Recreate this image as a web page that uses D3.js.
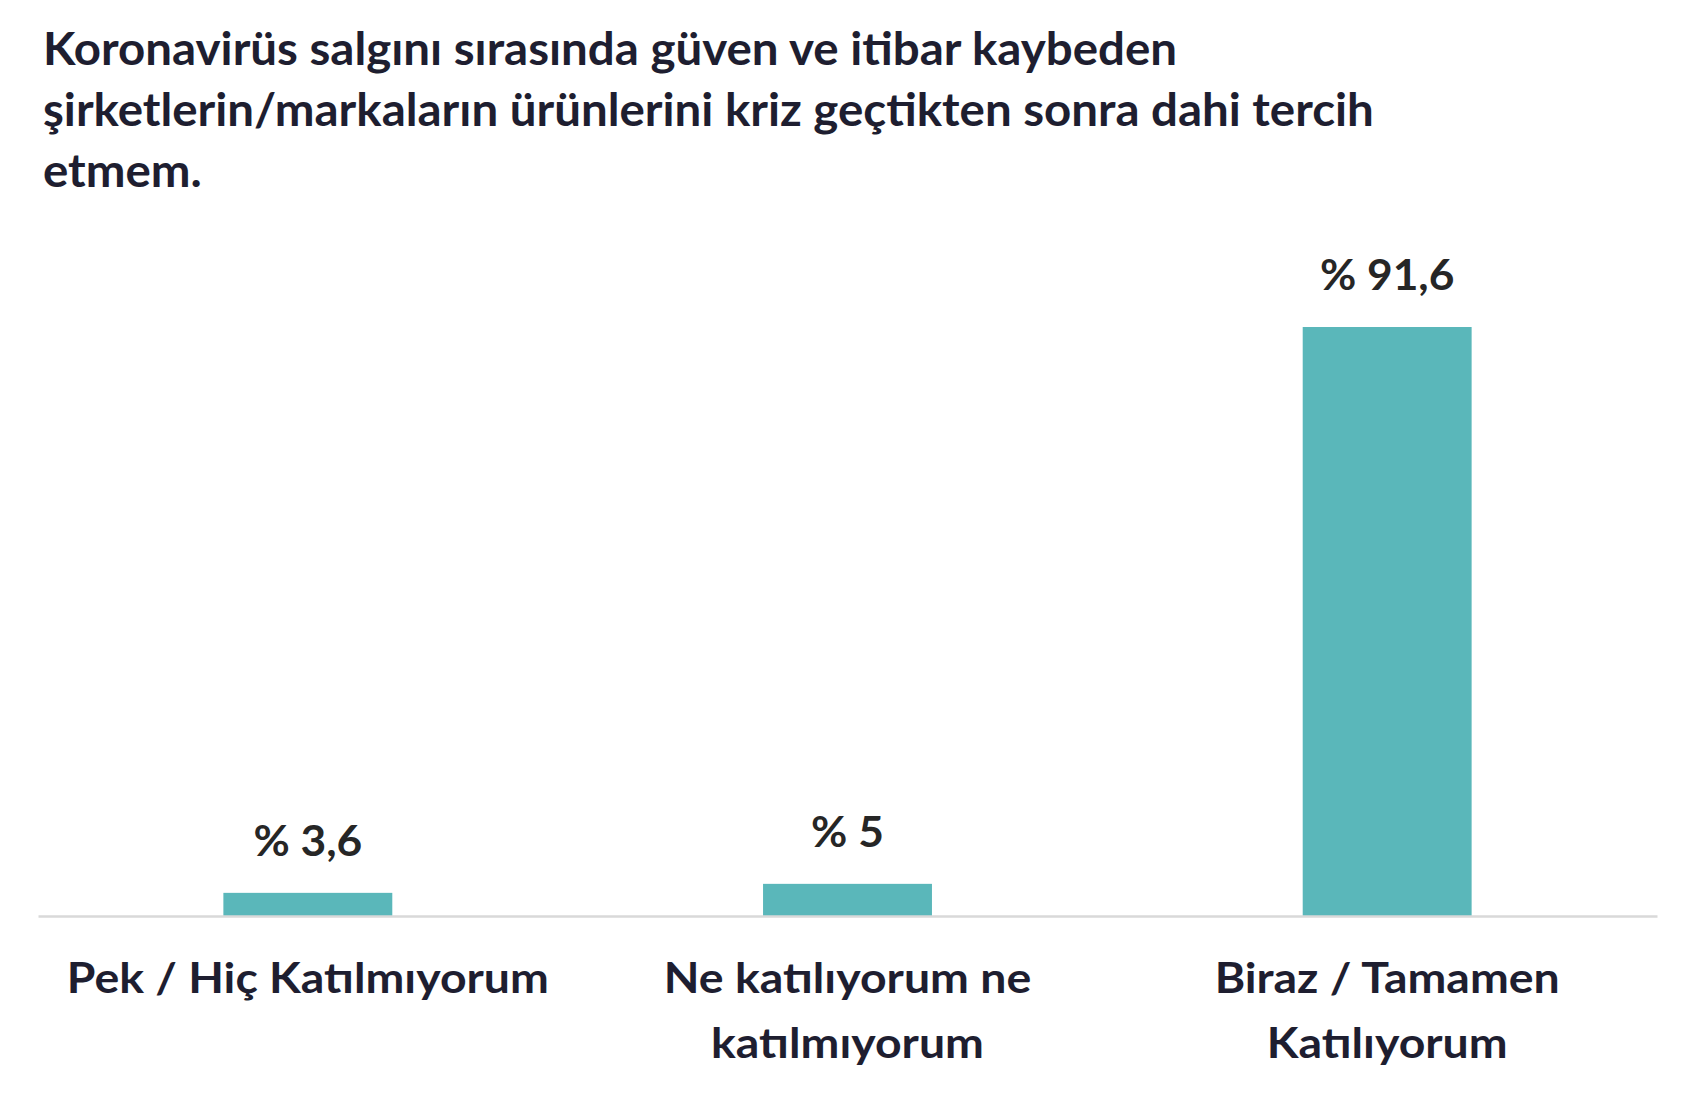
<!DOCTYPE html>
<html>
<head>
<meta charset="utf-8">
<script src="https://cdn.jsdelivr.net/npm/d3@7"></script>
<style>
  body { margin: 0; background: #fff; }
  text { font-family: Lato, "Open Sans", sans-serif; font-weight: bold; }
</style>
</head>
<body>
<div id="chart"></div>
<script>
// chart values
var titleLines = [
    "Koronavirüs salgını sırasında güven ve itibar kaybeden",
    "şirketlerin/markaların ürünlerini kriz geçtikten sonra dahi tercih",
    "etmem."
];
var categories = [
    "Pek / Hiç Katılmıyorum",
    "Ne katılıyorum ne\nkatılmıyorum",
    "Biraz / Tamamen\nKatılıyorum"
];
var values = [3.6, 5, 91.6];
var valueLabels = ["% 3,6", "% 5", "% 91,6"];

var svgWidth = 1698;
var svgHeight = 1110;

var svg = d3.select("#chart")
    .append("svg")
    .attr("width", svgWidth)
    .attr("height", svgHeight);

var baseY = 916;

// scales
var xscale = d3.scaleBand()
    .domain(categories)
    .range([38, 1657])
    .paddingInner(0.687)
    .paddingOuter(0.3435);

var yscale = d3.scaleLinear()
    .domain([0, 100])
    .range([baseY, baseY - 643]);

// title
var title = svg.append("g").attr("class", "title");
titleLines.forEach(function (line, i) {
    title.append("text")
        .attr("x", 43)
        .attr("y", 65 + i * 61)
        .style("font-size", "45px")
        .style("fill", "#1e1e30")
        .text(line);
});

// bars
svg.selectAll("rect.bar")
    .data(values)
    .enter()
    .append("rect")
    .attr("class", "bar")
    .attr("x", (d, i) => xscale(categories[i]))
    .attr("y", d => yscale(d))
    .attr("width", xscale.bandwidth())
    .attr("height", d => yscale(0) - yscale(d))
    .attr("fill", "#5ab7ba");

// value labels
svg.selectAll("text.val")
    .data(values)
    .enter()
    .append("text")
    .attr("class", "val")
    .attr("x", (d, i) => xscale(categories[i]) + xscale.bandwidth() / 2)
    .attr("y", d => yscale(d) - 37)
    .attr("text-anchor", "middle")
    .style("font-size", "42px")
    .style("fill", "#262626")
    .text((d, i) => valueLabels[i]);

// x axis
var xAxis = d3.axisBottom(xscale).tickSize(0).tickFormat("");
var axisG = svg.append("g")
    .attr("transform", `translate(0, ${baseY})`)
    .call(xAxis);
axisG.select(".domain")
    .attr("stroke", "#d9d9d9")
    .attr("stroke-width", 2.5);

axisG.selectAll(".tick").each(function (d) {
    var tick = d3.select(this);
    tick.selectAll("text").remove();
    d.split("\n").forEach(function (line, i) {
        tick.append("text")
            .attr("class", "cat")
            .attr("y", 77 + i * 65)
            .attr("text-anchor", "middle")
            .attr("fill", "#1e1e30")
            .style("font-size", "42px")
            .style("font-family", "Lato, 'Open Sans', sans-serif")
            .text(line);
    });
});

// squeeze the humanist font so it runs as narrow as the original
var natural = title.select("text").node().getComputedTextLength();
var k = 1134 / natural;
svg.selectAll("text").each(function () {
    var w = this.getComputedTextLength();
    var extra = d3.select(this).classed("cat") ? 1.048 : 1;
    d3.select(this)
        .attr("textLength", w * k * extra)
        .attr("lengthAdjust", "spacingAndGlyphs");
});
</script>
</body>
</html>
